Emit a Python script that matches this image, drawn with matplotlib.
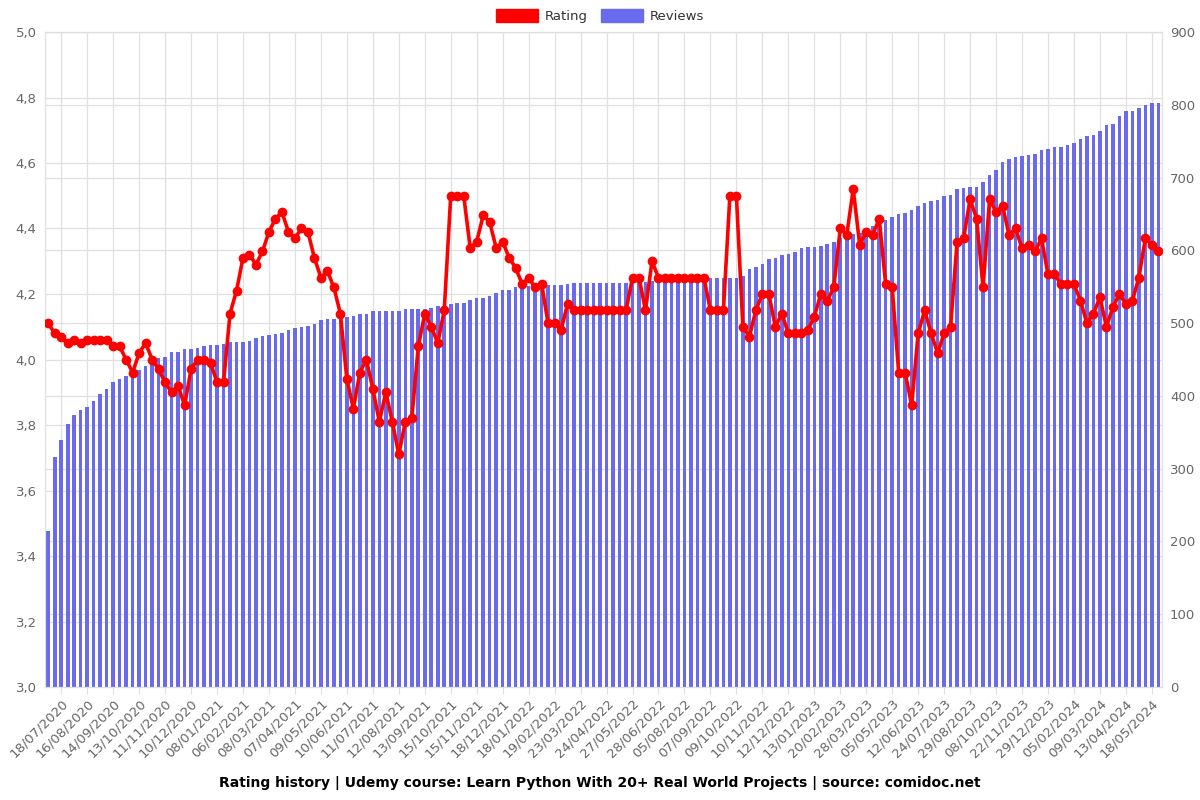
import matplotlib.pyplot as plt
from matplotlib.patches import Patch
from matplotlib.ticker import FuncFormatter, MultipleLocator
import numpy as np

# rating history (weekly samples)
ratings = [4.11, 4.08, 4.07, 4.05, 4.06, 4.05, 4.06, 4.06, 4.06, 4.06,
           4.04, 4.04, 4.00, 3.96, 4.02, 4.05, 4.00, 3.97, 3.93, 3.90,
           3.92, 3.86, 3.97, 4.00, 4.00, 3.99, 3.93, 3.93, 4.14, 4.21,
           4.31, 4.32, 4.29, 4.33, 4.39, 4.43, 4.45, 4.39, 4.37, 4.40,
           4.39, 4.31, 4.25, 4.27, 4.22, 4.14, 3.94, 3.85, 3.96, 4.00,
           3.91, 3.81, 3.90, 3.81, 3.71, 3.81, 3.82, 4.04, 4.14, 4.10,
           4.05, 4.15, 4.50, 4.50, 4.50, 4.34, 4.36, 4.44, 4.42, 4.34,
           4.36, 4.31, 4.28, 4.23, 4.25, 4.22, 4.23, 4.11, 4.11, 4.09,
           4.17, 4.15, 4.15, 4.15, 4.15, 4.15, 4.15, 4.15, 4.15, 4.15,
           4.25, 4.25, 4.15, 4.30, 4.25, 4.25, 4.25, 4.25, 4.25, 4.25,
           4.25, 4.25, 4.15, 4.15, 4.15, 4.50, 4.50, 4.10, 4.07, 4.15,
           4.20, 4.20, 4.10, 4.14, 4.08, 4.08, 4.08, 4.09, 4.13, 4.20,
           4.18, 4.22, 4.40, 4.38, 4.52, 4.35, 4.39, 4.38, 4.43, 4.23,
           4.22, 3.96, 3.96, 3.86, 4.08, 4.15, 4.08, 4.02, 4.08, 4.10,
           4.36, 4.37, 4.49, 4.43, 4.22, 4.49, 4.45, 4.47, 4.38, 4.40,
           4.34, 4.35, 4.33, 4.37, 4.26, 4.26, 4.23, 4.23, 4.23, 4.18,
           4.11, 4.14, 4.19, 4.10, 4.16, 4.20, 4.17, 4.18, 4.25, 4.37,
           4.35, 4.33]

reviews = [215, 316, 340, 362, 374, 380, 385, 393, 403, 410,
           419, 423, 428, 431, 436, 441, 444, 452, 453, 460,
           460, 464, 465, 466, 468, 470, 470, 471, 474, 474,
           474, 476, 479, 482, 484, 485, 487, 490, 493, 494,
           496, 499, 504, 505, 506, 508, 509, 510, 513, 513,
           516, 517, 517, 517, 517, 519, 520, 520, 520, 521,
           523, 523, 526, 528, 528, 532, 535, 535, 537, 542,
           545, 546, 550, 550, 551, 552, 553, 553, 553, 553,
           554, 555, 555, 555, 555, 555, 555, 555, 555, 555,
           555, 555, 557, 558, 558, 558, 558, 558, 558, 558,
           558, 558, 562, 562, 562, 562, 562, 565, 574, 577,
           581, 588, 590, 594, 595, 598, 603, 605, 605, 606,
           609, 612, 617, 619, 622, 624, 627, 633, 637, 642,
           646, 650, 651, 655, 661, 665, 668, 669, 675, 676,
           684, 685, 687, 687, 694, 703, 710, 721, 725, 728,
           730, 731, 733, 738, 739, 742, 742, 745, 748, 753,
           757, 759, 764, 772, 774, 784, 792, 792, 796, 800,
           802, 803]

# labels shown on every 4th sample, starting at the 3rd
tick_labels = ['18/07/2020', '16/08/2020', '14/09/2020', '13/10/2020', '11/11/2020',
               '10/12/2020', '08/01/2021', '06/02/2021', '08/03/2021', '07/04/2021',
               '09/05/2021', '10/06/2021', '11/07/2021', '12/08/2021', '13/09/2021',
               '15/10/2021', '15/11/2021', '18/12/2021', '18/01/2022', '19/02/2022',
               '23/03/2022', '24/04/2022', '27/05/2022', '28/06/2022', '05/08/2022',
               '07/09/2022', '09/10/2022', '10/11/2022', '12/12/2022', '13/01/2023',
               '20/02/2023', '28/03/2023', '05/05/2023', '12/06/2023', '24/07/2023',
               '29/08/2023', '08/10/2023', '22/11/2023', '29/12/2023', '05/02/2024',
               '09/03/2024', '13/04/2024', '18/05/2024']

title = 'Rating history | Udemy course: Learn Python With 20+ Real World Projects | source: comidoc.net'

red = '#ff0000'
blue = '#6a6aee'
grid_c = '#e0e0e0'
txt_c = '#666666'

x = np.arange(len(ratings))
tick_pos = np.arange(2, len(ratings), 4)[:len(tick_labels)]
pos = [0.0375, 0.14125, 0.9305, 0.81875]
xlim = (-0.5, len(ratings) - 0.5)

fig = plt.figure(figsize=(12, 8), dpi=100)

# background axes only carries the rating grid, so it sits behind the bars
bg = fig.add_axes(pos, zorder=1)
bg.set_xlim(xlim)
bg.set_ylim(3.0, 5.0)
bg.yaxis.set_major_locator(MultipleLocator(0.2))
bg.set_xticks(tick_pos)
bg.tick_params(length=0, labelleft=False, labelbottom=False)
bg.grid(True, color=grid_c, linewidth=0.9)
for s in bg.spines.values():
    s.set_visible(False)

ax2 = fig.add_axes(pos, zorder=2)   # reviews (right)
ax = fig.add_axes(pos, zorder=3)    # rating (left)
ax2.patch.set_visible(False)
ax.patch.set_visible(False)

ax2.bar(x, reviews, width=0.55, color=blue, linewidth=0, zorder=2)
ax2.set_xlim(xlim)
ax2.set_ylim(0, 900)
ax2.yaxis.set_major_locator(MultipleLocator(100))
ax2.yaxis.tick_right()
ax2.set_xticks([])
ax2.grid(axis='y', color=grid_c, linewidth=0.9, zorder=0)
ax2.set_axisbelow(True)

ax.plot(x, ratings, color=red, linewidth=2.6, marker='o', markersize=6, zorder=5)
ax.set_xlim(xlim)
ax.set_ylim(3.0, 5.0)
ax.yaxis.set_major_locator(MultipleLocator(0.2))
ax.yaxis.set_major_formatter(FuncFormatter(lambda v, p: ('%.1f' % v).replace('.', ',')))
ax.set_xticks(tick_pos)
ax.set_xticklabels(tick_labels, rotation=45, ha='right', rotation_mode='anchor')

for a in (ax, ax2):
    for s in a.spines.values():
        s.set_color(grid_c)
    a.tick_params(colors=txt_c, labelsize=9.5)
    a.tick_params(axis='y', length=0, pad=6)
    a.tick_params(axis='x', length=5, color=grid_c, pad=2)

handles = [Patch(facecolor=red, edgecolor=red), Patch(facecolor=blue, edgecolor=blue)]
fig.legend(handles, ['Rating', 'Reviews'], loc='center', bbox_to_anchor=(0.5, 0.98),
           ncol=2, frameon=False, handlelength=3.2, handleheight=1.1, columnspacing=1.0,
           handletextpad=0.5, prop={'size': 9.5}, labelcolor='#333333')

fig.text(0.5, 0.021, title, ha='center', va='center', fontsize=10, fontweight='bold')

plt.savefig('out.png', dpi=100)
